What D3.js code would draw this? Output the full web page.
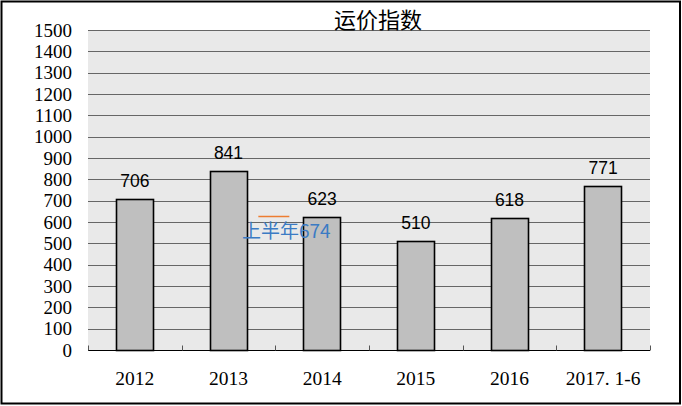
<!DOCTYPE html>
<html><head><meta charset="utf-8">
<script src="https://cdn.jsdelivr.net/npm/d3@7"></script>
<style>body{margin:0;background:#fff}svg{display:block}
.serif{font-family:"Liberation Serif","Times New Roman",serif}
.sans{font-family:"Liberation Sans",Arial,sans-serif}
.cjk{font-family:"Noto Sans CJK SC",sans-serif}
</style>
</head><body>
<svg id="c" width="682" height="406"></svg>
<script>
const categories = ["2012","2013","2014","2015","2016","2017. 1-6"];
const values = [706, 841, 623, 510, 618, 771];
const yTicks = [0,100,200,300,400,500,600,700,800,900,1000,1100,1200,1300,1400,1500];
const titleText = "运价指数";
const annoText = "上半年674";
const annoLevel = [628];

const svg = d3.select("#c");
const W = 682, H = 406;
const m = {l:88, r:32, t:30, b:56};
const x = d3.scaleBand().domain(categories).range([m.l, W - m.r]).paddingInner(0.6).paddingOuter(0.3);
const xb = d3.scaleBand().domain(categories).range([m.l, W - m.r]);
const y = d3.scaleLinear().domain([0,1500]).range([H - m.b, m.t]);

svg.append("rect").attr("x",1.5).attr("y",1.5).attr("width",678.5).attr("height",402)
  .attr("fill","#fff").attr("stroke","#000").attr("stroke-width",2);

svg.append("rect").attr("x",m.l).attr("y",m.t).attr("width",W-m.r-m.l).attr("height",y(0)-m.t)
  .attr("fill","#e9e9e9");

// gridlines
svg.append("g").selectAll("line").data(yTicks.filter(d=>d>0)).join("line")
  .attr("x1",m.l).attr("x2",W-m.r).attr("y1",d=>Math.round(y(d))+0.5).attr("y2",d=>Math.round(y(d))+0.5)
  .attr("stroke","#666").attr("stroke-width",1);

// y labels
svg.append("g").attr("class","serif").selectAll("text").data(yTicks).join("text")
  .attr("x",72).attr("y",d=>y(d)+6.5).attr("text-anchor","end")
  .style("font-size","19px").attr("fill","#000").text(d=>String(d));

// bars
svg.append("g").selectAll("rect").data(values).join("rect")
  .attr("x",(d,i)=>Math.round(x(categories[i]))+0.5).attr("width",Math.round(x.bandwidth()))
  .attr("y",d=>Math.round(y(d))+0.5).attr("height",d=>Math.round(y(0))-Math.round(y(d)))
  .attr("fill","#bfbfbf").attr("stroke","#000").attr("stroke-width",1.6);

// x axis line & ticks
const y0 = Math.round(y(0))+0.5;
svg.append("line").attr("x1",m.l).attr("x2",W-m.r).attr("y1",y0).attr("y2",y0).attr("stroke","#000").attr("stroke-width",1.2);
const bounds = categories.map(c=>xb(c)).concat([W-m.r]);
svg.append("g").selectAll("line").data(bounds).join("line")
  .attr("x1",d=>Math.round(d)+0.5).attr("x2",d=>Math.round(d)+0.5).attr("y1",y0).attr("y2",y0-5)
  .attr("stroke","#555").attr("stroke-width",1);

// data labels
svg.append("g").attr("class","sans").selectAll("text").data(values).join("text")
  .attr("x",(d,i)=>x(categories[i])+x.bandwidth()/2).attr("y",d=>y(d)-12)
  .attr("text-anchor","middle").style("font-size","17.5px")
  .attr("fill","#000").text(d=>d);

// x labels
svg.append("g").attr("class","serif").selectAll("text").data(categories).join("text")
  .attr("x",d=>xb(d)+xb.bandwidth()/2).attr("y",385)
  .attr("text-anchor","middle").style("font-size","19.5px")
  .attr("fill","#000").text(d=>d);

// title
svg.append("text").attr("class","cjk").attr("x",378).attr("y",28).attr("text-anchor","middle")
  .style("font-size","22px").attr("fill","#000").text(titleText);

// annotation
const ax = xb("2013") + xb.bandwidth();
svg.append("line").attr("x1",ax-17).attr("x2",ax+14).attr("y1",Math.round(y(annoLevel[0]))+0.5).attr("y2",Math.round(y(annoLevel[0]))+0.5)
  .attr("stroke","#ed7d31").attr("stroke-width",1.5);
svg.append("text").attr("class","cjk").attr("x",ax+11).attr("y",y(annoLevel[0])+22).attr("text-anchor","middle")
  .style("font-size","19px").attr("fill","#3b7bc4").text(annoText);
</script>
</body></html>
